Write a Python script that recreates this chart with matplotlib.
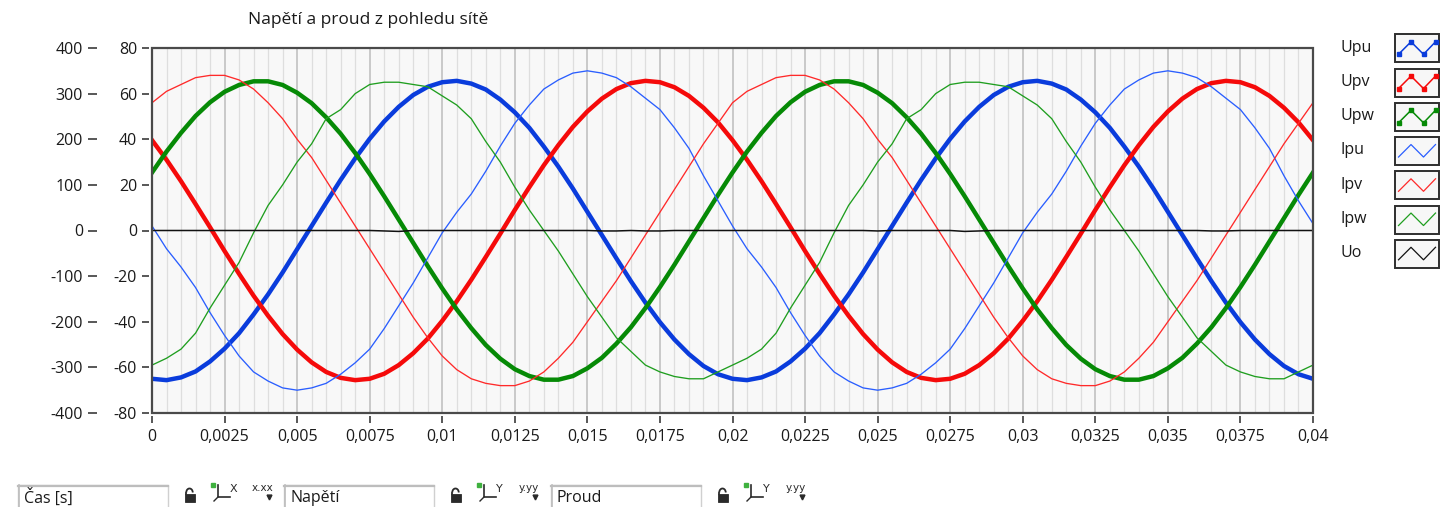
import numpy as np
import matplotlib
matplotlib.use('Agg')
import matplotlib.pyplot as plt
from matplotlib.patches import Rectangle, Arc
from matplotlib.ticker import MultipleLocator, FuncFormatter

plt.rcParams['font.family'] = ['Open Sans', 'DejaVu Sans']
plt.rcParams['axes.unicode_minus'] = False

# waveform data: t0 = 0, dt = 0.5 ms, 81 samples (0 .. 0.04 s)
t0 = 0.0
dt = 0.0005
# voltages [V] (left outer scale)
upu = [-325, -328, -322, -309, -287, -259, -225, -184, -140, -92, -41, 10, 61, 111, 158, 201, 239, 271, 297, 315,
       325, 328, 322, 309, 287, 259, 225, 184, 140, 92, 41, -10, -61, -111, -158, -201, -239, -271, -297, -315,
       -325, -328, -322, -309, -287, -259, -225, -184, -140, -92, -41, 10, 61, 111, 158, 201, 239, 271, 297, 315,
       325, 328, 322, 309, 287, 259, 225, 184, 140, 92, 41, -10, -61, -111, -158, -201, -239, -271, -297, -315,
       -325]
upv = [198, 155, 108, 58, 7, -45, -95, -143, -187, -227, -261, -289, -310, -323, -328, -325, -314, -295, -269, -237,
       -198, -155, -108, -58, -7, 45, 95, 143, 187, 227, 261, 289, 310, 323, 328, 325, 314, 295, 269, 237,
       198, 155, 108, 58, 7, -45, -95, -143, -187, -227, -261, -289, -310, -323, -328, -325, -314, -295, -269, -237,
       -198, -155, -108, -58, -7, 45, 95, 143, 187, 227, 261, 289, 310, 323, 328, 325, 314, 295, 269, 237,
       198]
upw = [127, 173, 214, 251, 281, 304, 319, 327, 327, 319, 302, 279, 248, 212, 170, 124, 75, 24, -27, -78,
       -127, -173, -214, -251, -281, -304, -319, -327, -327, -319, -302, -279, -248, -212, -170, -124, -75, -24, 27, 78,
       127, 173, 214, 251, 281, 304, 319, 327, 327, 319, 302, 279, 248, 212, 170, 124, 75, 24, -27, -78,
       -127, -173, -214, -251, -281, -304, -319, -327, -327, -319, -302, -279, -248, -212, -170, -124, -75, -24, 27, 78,
       127]
uo = [0] * 16 + [-1, -2] + [0] * 13 + [-1, -1, 0, -1, -1] + [0] * 14 + [-1] + [0] * 5 + [-2, -1] + [0] * 15 + [-1, -1] + [0] * 6
# currents [A] (left inner scale)
ipu = [2, -8, -16, -25, -36, -46, -55, -62, -66, -69, -70, -69, -67, -63, -58, -52, -43, -33, -23, -12,
       -1, 8, 16, 26, 37, 47, 55, 62, 66, 69, 70, 69, 67, 63, 58, 53, 45, 36, 24, 13,
       2, -8, -16, -25, -36, -46, -55, -62, -66, -69, -70, -69, -67, -63, -58, -52, -43, -33, -23, -12,
       -1, 8, 16, 26, 37, 47, 55, 62, 66, 69, 70, 69, 67, 63, 58, 53, 45, 36, 24, 13,
       3]
ipv = [56, 61, 64, 67, 68, 68, 66, 62, 56, 49, 40, 32, 22, 12, 2, -8, -18, -28, -38, -47,
       -55, -61, -65, -67, -68, -68, -66, -62, -56, -49, -40, -31, -22, -12, -2, 8, 18, 28, 38, 47,
       56, 61, 64, 67, 68, 68, 66, 62, 56, 49, 40, 32, 22, 12, 2, -8, -18, -28, -38, -47,
       -55, -61, -65, -67, -68, -68, -66, -62, -56, -49, -40, -31, -22, -12, -2, 8, 18, 28, 38, 47,
       56]
ipw = [-59, -56, -52, -45, -34, -24, -14, -1, 11, 20, 30, 38, 49, 53, 60, 64, 65, 65, 64, 63,
       59, 55, 49, 39, 30, 19, 9, 0, -9, -19, -29, -38, -47, -53, -59, -62, -64, -65, -65, -62,
       -59, -56, -52, -45, -34, -24, -14, -1, 11, 20, 30, 38, 49, 53, 60, 64, 65, 65, 64, 63,
       59, 55, 49, 39, 30, 19, 9, 0, -9, -19, -29, -38, -47, -53, -59, -62, -64, -65, -65, -62,
       -59]

names = ['Upu', 'Upv', 'Upw', 'Ipu', 'Ipv', 'Ipw', 'Uo']
colors = ['#0a3cdc', '#f50a0a', '#068a06', '#2a5eff', '#ff2a2a', '#1f9e1f', '#111111']
title = 'Napětí a proud z pohledu sítě'
scale_names = ['Čas [s]', 'Napětí', 'Proud']

t = t0 + dt * np.arange(len(upu))

W, H = 1441, 507
fig = plt.figure(figsize=(W / 100, H / 100), dpi=100)
fig.patch.set_facecolor('white')

L, R, T, B = 152, 1313, 48, 413
ax = fig.add_axes([L / W, 1 - B / H, (R - L) / W, (B - T) / H])   # voltage
axI = ax.twinx()                                                  # current
axO = ax.twinx()                                                  # Uo on top
ax.set_facecolor('#f8f8f8')

for a in (ax, axI, axO):
    for s in a.spines.values():
        s.set_visible(False)
    a.set_xlim(0, 0.04)

ax.set_ylim(-400, 400)
axO.set_ylim(-400, 400)
axI.set_ylim(-80, 80)

# grid (vertical only)
ax.xaxis.set_major_locator(MultipleLocator(0.0025))
ax.xaxis.set_minor_locator(MultipleLocator(0.0005))
ax.xaxis.set_major_formatter(FuncFormatter(lambda v, p: ('%g' % v).replace('.', ',')))
ax.grid(which='major', axis='x', color='#c6c6c6', lw=1.3)
ax.grid(which='minor', axis='x', color='#dedede', lw=0.9)
ax.grid(which='major', axis='y', visible=False)

tick_kw = dict(colors='#2a2a2a', labelcolor='#1a1a1a', labelsize=11.5, width=1.1, direction='out')
ax.spines['bottom'].set_position(('outward', 2.5))
ax.tick_params(axis='x', which='major', length=5, pad=4, **tick_kw)
ax.tick_params(axis='x', which='minor', length=0)

ax.yaxis.tick_left()
ax.spines['left'].set_position(('outward', 39.6))
ax.yaxis.set_major_locator(MultipleLocator(100))
ax.tick_params(axis='y', length=6.5, pad=3.6, **tick_kw)

axI.yaxis.tick_left()
axI.spines['left'].set_position(('outward', 2.2))
axI.yaxis.set_major_locator(MultipleLocator(20))
axI.tick_params(axis='y', length=5, pad=3.6, **tick_kw)
axI.tick_params(axis='x', bottom=False, labelbottom=False)

axO.set_yticks([])
axO.tick_params(axis='x', bottom=False, labelbottom=False)

# plots
for vals, c in zip([upu, upv, upw], colors[:3]):
    ax.plot(t, vals, color=c, lw=3.2, solid_joinstyle='round')
for vals, c in zip([ipu, ipv, ipw], colors[3:6]):
    axI.plot(t, vals, color=c, lw=0.95)
axO.plot(t, uo, color=colors[6], lw=1.1)

axO.add_patch(Rectangle((0, 0), 1, 1, transform=axO.transAxes, fill=False,
                        ec='#4a4a4a', lw=1.6, clip_on=False, zorder=10))

# overlay in pixel coordinates for title, legend and scale controls
ov = fig.add_axes([0, 0, 1, 1], zorder=5)
ov.set_xlim(0, W)
ov.set_ylim(H, 0)
ov.axis('off')

ov.text(368, 20, title, ha='center', va='center', fontsize=12.5, color='#1a1a1a')

for i, (name, c) in enumerate(zip(names, colors)):
    cy = 47.7 + 34.25 * i
    top = cy - 13.4
    ov.text(1340, cy, name, ha='left', va='center', fontsize=11.5, color='#1a1a1a')
    ov.add_patch(Rectangle((1394.5, top), 44, 28, fc='#f7f7f7', ec='#2e2e2e', lw=1.4))
    zx = [1398.5, 1411, 1423.5, 1435.5]
    zy = [top + 20, top + 7.5, top + 20, top + 7.5]
    if i < 3:
        ov.plot(zx, zy, color=c, lw=1.1, marker='s', ms=2.3)
    else:
        ov.plot(zx, zy, color=c, lw=0.9)

for j, (label, bx) in enumerate(zip(scale_names, [18, 284, 551])):
    ov.add_patch(Rectangle((bx, 485), 150, 30, fc='white', ec='#d0d0d0', lw=1.0, clip_on=False))
    ov.plot([bx, bx + 150], [485.5, 485.5], color='#bdbdbd', lw=1.6)
    ov.plot([bx + 0.5, bx + 0.5], [485, 507], color='#bdbdbd', lw=1.2)
    ov.text(bx + 6, 498, label, ha='left', va='center', fontsize=11.5, color='#1a1a1a')
    # lock
    ov.add_patch(Rectangle((bx + 166.5, 494), 10, 8, fc='#2a2a2a', ec='#2a2a2a', lw=0.6))
    ov.add_patch(Arc((bx + 171.5, 492.5), 6.5, 8, theta1=180, theta2=360, ec='#2a2a2a', lw=1.3))
    ov.plot([bx + 168.3, bx + 168.3], [492.5, 494], color='#2a2a2a', lw=1.3)
    # scale icon
    ov.plot([bx + 195], [484.5], marker='s', ms=2.5, color='#3fb13f')
    ov.plot([bx + 200, bx + 200, bx + 212], [485, 497, 497], color='#2a2a2a', lw=1.2)
    ov.plot([bx + 200, bx + 196], [497, 501], color='#2a2a2a', lw=1.0)
    ov.text(bx + 215, 489, 'X' if j == 0 else 'Y', ha='center', va='center',
            fontsize=8, family='DejaVu Sans', color='#2a2a2a')
    # format icon
    ov.text(bx + 245, 488, 'x.xx' if j == 0 else 'y.yy', ha='center', va='center',
            fontsize=7.5, family='DejaVu Sans', color='#2a2a2a')
    ov.plot([bx + 251], [496.5], marker='v', ms=3.5, color='#2a2a2a')

fig.savefig('out.png', dpi=100, facecolor='white')
